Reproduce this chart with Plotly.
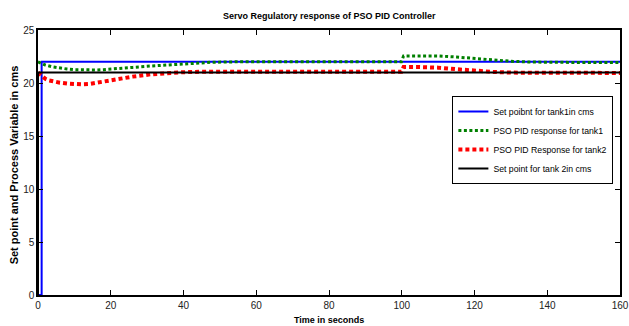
import plotly.graph_objects as go

# ---- data ----
t_sp1 = [0, 1, 1, 160]
v_sp1 = [0, 0, 22, 22]

t_sp2 = [0, 0, 160]
v_sp2 = [0, 21, 21]

t_pv1 = [0, 1, 2, 4, 6, 8, 10, 12, 14, 16, 18, 20, 22, 26, 31, 36, 40, 44, 48, 55, 70, 85, 99.9,
         100.5, 105, 110, 115, 120, 125, 130, 135, 140, 150, 160]
v_pv1 = [22.0, 21.85, 21.7, 21.52, 21.4, 21.32, 21.26, 21.23, 21.22, 21.23, 21.26, 21.3, 21.35,
         21.47, 21.6, 21.72, 21.82, 21.9, 21.96, 22.0, 22.0, 22.0, 22.0,
         22.55, 22.58, 22.55, 22.45, 22.3, 22.15, 22.05, 21.98, 21.95, 21.93, 21.93]

t_pv2 = [0, 1, 2, 3, 4, 6, 8, 10, 12, 14, 16, 18, 20, 22, 26, 31, 36, 40, 45, 50, 70, 99.9,
         100.5, 105, 110, 115, 120, 125, 130, 140, 160]
v_pv2 = [21.0, 20.65, 20.4, 20.25, 20.15, 20.03, 19.95, 19.89, 19.87, 19.9, 20.02, 20.15, 20.28,
         20.4, 20.6, 20.82, 20.95, 21.02, 21.06, 21.07, 21.06, 21.05,
         21.5, 21.5, 21.45, 21.3, 21.15, 21.05, 20.98, 20.95, 20.95]

x_ticks = [0, 20, 40, 60, 80, 100, 120, 140, 160]
y_ticks = [0, 5, 10, 15, 20, 25]

names = ["Set poibnt for tank1in cms", "PSO PID response for tank1",
         "PSO PID Response for tank2", "Set point for tank 2in cms"]

fig = go.Figure()
fig.add_trace(go.Scatter(x=t_sp1, y=v_sp1, mode="lines", name=names[0],
                         line=dict(color="#0000ff", width=2)))
fig.add_trace(go.Scatter(x=t_pv1, y=v_pv1, mode="lines", name=names[1],
                         line=dict(color="#008000", width=3, dash="3px,2.5px")))
fig.add_trace(go.Scatter(x=t_pv2, y=v_pv2, mode="lines", name=names[2],
                         line=dict(color="#ff0000", width=4, dash="4px,3px")))
fig.add_trace(go.Scatter(x=t_sp2, y=v_sp2, mode="lines", name=names[3],
                         line=dict(color="#000000", width=2)))

font_fam = "Liberation Sans, Arial, sans-serif"
axis_common = dict(showgrid=False, zeroline=False, showline=True, linecolor="black",
                   linewidth=1.5, mirror="ticks", ticks="inside", ticklen=5,
                   tickcolor="black", tickwidth=1, ticklabeloverflow="allow",
                   tickfont=dict(family=font_fam, size=10, color="#222"))

fig.update_layout(
    width=629, height=326,
    margin=dict(l=38, r=0, t=30, b=31),
    paper_bgcolor="white", plot_bgcolor="white",
    showlegend=True,
    legend=dict(x=0.712, y=(295 - 96) / 265, xanchor="left", yanchor="top",
                bordercolor="black", borderwidth=1, bgcolor="white",
                font=dict(family=font_fam, size=8.7, color="black"),
                itemwidth=30, tracegroupgap=0),
    xaxis=dict(range=[0, 160], tickvals=x_ticks, **axis_common),
    yaxis=dict(range=[0, 25], tickvals=y_ticks, **axis_common),
    annotations=[
        dict(text="<b>Servo Regulatory response of PSO PID Controller</b>", xref="paper", yref="paper",
             x=0.5, y=(295 - 16) / 265, xanchor="center", yanchor="middle", showarrow=False,
             font=dict(family=font_fam, size=9, color="black")),
        dict(text="<b>Time in seconds</b>", xref="paper", yref="paper",
             x=0.5, y=(295 - 320) / 265, xanchor="center", yanchor="middle", showarrow=False,
             font=dict(family=font_fam, size=9, color="black")),
        dict(text="<b>Set point and Process Variable in cms</b>", xref="paper", yref="paper",
             x=(14 - 38) / 591, y=(295 - 165) / 265, xanchor="center", yanchor="middle",
             textangle=-90, showarrow=False,
             font=dict(family=font_fam, size=11, color="black")),
    ],
)

fig.write_html("out.html")
